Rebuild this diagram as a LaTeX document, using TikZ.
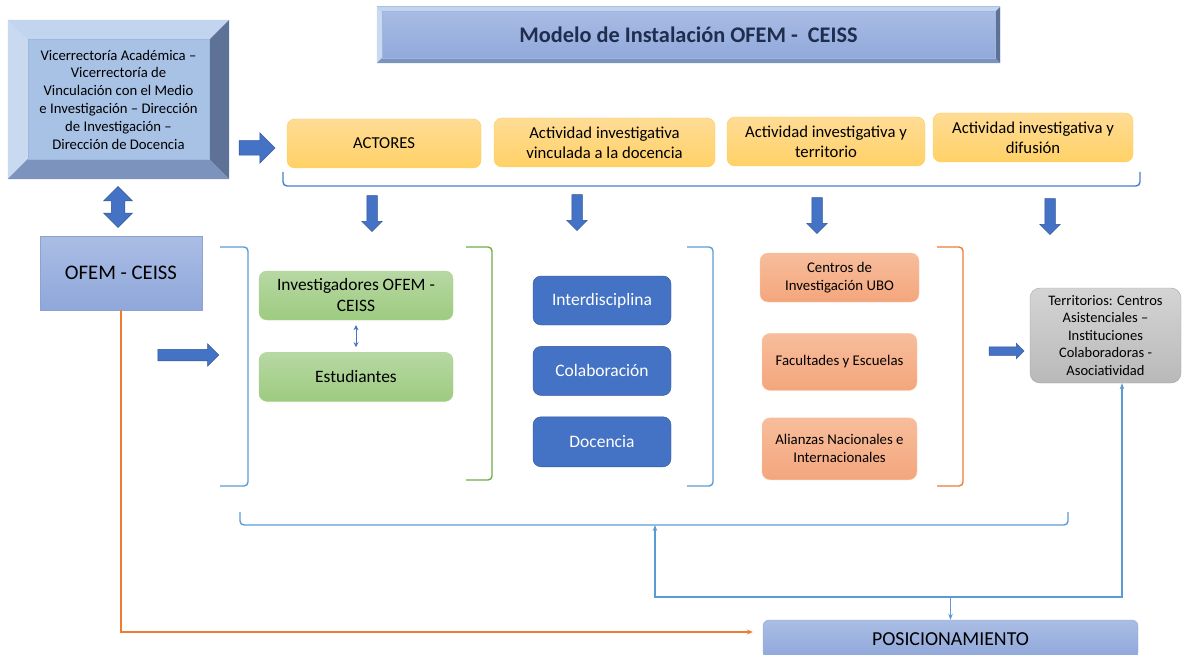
\documentclass[tikz,border=0pt]{standalone}
\usepackage{fontspec}
\setmainfont{Carlito}
\usetikzlibrary{positioning}
\usetikzlibrary{shapes.arrows}
\usetikzlibrary{arrows.meta}

\definecolor{bevinner}{HTML}{A8C2E6}
\definecolor{bevtop}{HTML}{C3D4EE}
\definecolor{bevleft}{HTML}{C8D9F0}
\definecolor{bevright}{HTML}{5D7296}
\definecolor{bevbottom}{HTML}{7B93BD}
\definecolor{bevedge}{HTML}{9CB8E0}
\definecolor{titletop}{HTML}{AABDE4}
\definecolor{titlebot}{HTML}{8FA7DA}
\definecolor{titletext}{HTML}{1F2D4F}
\definecolor{arrowblue}{HTML}{4472C4}
\definecolor{arrowedge}{HTML}{2F5597}
\definecolor{yelltop}{HTML}{FFDC96}
\definecolor{yellbot}{HTML}{FFD166}
\definecolor{yelledge}{HTML}{FFCC55}
\definecolor{greentop}{HTML}{B7D8A3}
\definecolor{greenbot}{HTML}{9DCB80}
\definecolor{greenedge}{HTML}{A9D18E}
\definecolor{salmtop}{HTML}{F7BD9C}
\definecolor{salmbot}{HTML}{F4A67C}
\definecolor{salmedge}{HTML}{F8CBAD}
\definecolor{graytop}{HTML}{D4D4D4}
\definecolor{graybot}{HTML}{B9B9B9}
\definecolor{grayedge}{HTML}{A5A5A5}
\definecolor{lineblue}{HTML}{5B9BD5}
\definecolor{topblue}{HTML}{4A7CC9}
\definecolor{linegreen}{HTML}{70AD47}
\definecolor{lineorange}{HTML}{ED7D31}

\newcommand{\fVice}{\fontsize{14.7}{17.8}\selectfont}
\newcommand{\fTitle}{\fontsize{22.3}{26}\selectfont\bfseries}
\newcommand{\fTop}{\fontsize{16.7}{20}\selectfont}
\newcommand{\fOfem}{\fontsize{20.7}{25}\selectfont}
\newcommand{\fGreen}{\fontsize{17.4}{21}\selectfont}
\newcommand{\fBlue}{\fontsize{17.5}{20}\selectfont}
\newcommand{\fSmall}{\fontsize{14.8}{18}\selectfont}
\newcommand{\fGray}{\fontsize{14.5}{17.5}\selectfont}
\newcommand{\fPos}{\fontsize{19.8}{22}\selectfont}

\newcommand{\bevel}[2]{%
	\fill[bevtop] (#1.north west) -- (#1.north east) -- ([xshift=-#2,yshift=-#2]#1.north east) -- ([xshift=#2,yshift=-#2]#1.north west) -- cycle;
	\fill[bevleft] (#1.north west) -- ([xshift=#2,yshift=-#2]#1.north west) -- ([xshift=#2,yshift=#2]#1.south west) -- (#1.south west) -- cycle;
	\fill[bevright] (#1.north east) -- ([xshift=-#2,yshift=-#2]#1.north east) -- ([xshift=-#2,yshift=#2]#1.south east) -- (#1.south east) -- cycle;
	\fill[bevbottom] (#1.south west) -- ([xshift=#2,yshift=#2]#1.south west) -- ([xshift=-#2,yshift=#2]#1.south east) -- (#1.south east) -- cycle;
	\draw[bevedge, line width=0.6pt] ([xshift=#2,yshift=-#2]#1.north west) rectangle ([xshift=-#2,yshift=#2]#1.south east);
}

\begin{document}
\begin{tikzpicture}[x=1pt, y=-1pt,
		yellowbox/.style={draw=yelledge, top color=yelltop, bottom color=yellbot, rounded corners=8pt, align=center, font=\fTop, minimum height=49pt},
		greenbox/.style={draw=greenedge, top color=greentop, bottom color=greenbot, rounded corners=8pt, align=center, font=\fGreen, minimum width=194pt, minimum height=49pt},
		bluebox/.style={draw=arrowedge, fill=arrowblue, text=white, rounded corners=8pt, font=\fBlue, minimum width=138pt, minimum height=49pt},
		salmonbox/.style={draw=salmedge, top color=salmtop, bottom color=salmbot, rounded corners=8pt, align=center, font=\fSmall, minimum width=155pt},
		blockarrow/.style 2 args={single arrow, fill=arrowblue, draw=arrowedge, line width=0.5pt, inner sep=#1, single arrow head extend=#2},
		brk/.style={line width=1.4pt, rounded corners=4pt},
		link/.style={draw=lineblue, line width=1.1pt, -{Stealth[length=6pt, width=4.5pt]}}]
	\useasboundingbox (0,0) rectangle (1183,655);

	\node [fill=bevinner, minimum width=221pt, minimum height=159pt, align=center, font=\fVice] (vice) at (118.5,99.5) {Vicerrectoría Académica –\\ Vicerrectoría de\\ Vinculación con el Medio\\ e Investigación – Dirección\\ de Investigación –\\ Dirección de Docencia};
	\bevel{vice}{20pt}

	\node [top color=titletop, bottom color=titlebot, minimum width=623pt, minimum height=56pt, font=\fTitle, text=titletext] (title) at (688.5,35) {Modelo de Instalación OFEM - \ CEISS};
	\bevel{title}{5pt}

	\node [blockarrow={7pt}{8pt}, minimum height=36pt] (arrvice) at (253.5,148) {};

	\node [yellowbox, minimum width=194pt] (actores) at (384,143.5) {ACTORES};
	\node [yellowbox, minimum width=221pt] (vinc) at (604.5,142.5) {Actividad investigativa\\ vinculada a la docencia};
	\node [yellowbox, minimum width=198pt] (terr) at (826,141.5) {Actividad investigativa y\\ territorio};
	\node [yellowbox, minimum width=200pt] (difu) at (1033,137.5) {Actividad investigativa y\\ difusión};

	\draw [brk, draw=topblue] (283,172) -- (283,186) -- (1140,186) -- (1140,172);

	\node [blockarrow={5pt}{5pt}, minimum height=36pt, rotate=-90] (down1) at (372,211) {};
	\node [blockarrow={5pt}{5pt}, minimum height=36pt, rotate=-90] (down2) at (577,210) {};
	\node [blockarrow={5pt}{5pt}, minimum height=36pt, rotate=-90] (down3) at (817,213) {};
	\node [blockarrow={5pt}{5pt}, minimum height=36pt, rotate=-90] (down4) at (1050,214) {};

	\node [double arrow, fill=arrowblue, draw=arrowedge, line width=0.5pt, inner sep=6.5pt, double arrow head extend=7.5pt, minimum height=41pt, rotate=90] (dblarr) at (118,207) {};

	\node [draw=titletop!80!black!30!titlebot, top color=titletop, bottom color=titlebot, minimum width=162pt, minimum height=74pt, font=\fOfem] (ofem) at (121,273) {OFEM - CEISS};

	\node [blockarrow={5.5pt}{5.5pt}, minimum height=61pt] (arrofem) at (185.5,355) {};

	\draw [brk, draw=lineblue] (220,247) -- (248,247) -- (248,486) -- (220,486);
	\draw [brk, draw=linegreen] (466,247) -- (492,247) -- (492,480) -- (466,480);
	\draw [brk, draw=lineblue] (687,247) -- (713,247) -- (713,486) -- (687,486);
	\draw [brk, draw=lineorange] (937,247) -- (963,247) -- (963,486) -- (937,486);

	\node [greenbox] (invest) at (356,295.5) {Investigadores OFEM -\\ CEISS};
	\node [greenbox, below=32pt of invest] (estud) {Estudiantes};
	\draw [{Stealth[length=5pt, width=5pt]}-{Stealth[length=5pt, width=5pt]}, draw=arrowblue, line width=0.9pt, shorten <=5pt, shorten >=5pt] (invest) -- (estud);

	\node [bluebox] (interd) at (602,300.5) {Interdisciplina};
	\node [bluebox, below=21pt of interd] (colab) {Colaboración};
	\node [bluebox, below=21pt of colab, minimum height=50pt] (docen) {Docencia};

	\node [salmonbox, minimum width=159pt, minimum height=49pt] (centros) at (839.5,277.5) {Centros de\\ Investigación UBO};
	\node [salmonbox, minimum height=57pt, below=31pt of centros] (facul) {Facultades y Escuelas};
	\node [salmonbox, minimum height=62pt, below=27pt of facul] (alian) {Alianzas Nacionales e\\ Internacionales};

	\node [blockarrow={4pt}{3.5pt}, minimum height=35pt] (arrterr) at (1004.5,351) {};

	\node [draw=grayedge, top color=graytop, bottom color=graybot, rounded corners=10pt, align=center, font=\fGray, minimum width=151pt, minimum height=95pt] (terri) at (1105.5,335.5) {Territorios: Centros\\ Asistenciales –\\ Instituciones\\ Colaboradoras -\\ Asociatividad};

	\draw [brk, draw=lineblue] (240,512) -- (240,525) -- (1068,525) -- (1068,512);
	\coordinate (brkmid) at (655,525);

	\node [draw=titlebot, top color=titletop, bottom color=titlebot, rounded corners=6pt, minimum width=375pt, minimum height=38pt, font=\fPos] (pos) at (950.5,639) {POSICIONAMIENTO};

	\coordinate (hub) at (950.5,597);
	\draw [link] (hub) -- (pos.north);
	\draw [link] (hub) -| (brkmid);
	\draw [link] (hub) -| ([xshift=16.5pt]terri.south);

	\draw [draw=lineorange, line width=1.5pt, -{Stealth[length=6pt, width=5pt]}] (ofem.south) |- ([xshift=-10pt, yshift=7pt]pos.west);
\end{tikzpicture}
\end{document}
